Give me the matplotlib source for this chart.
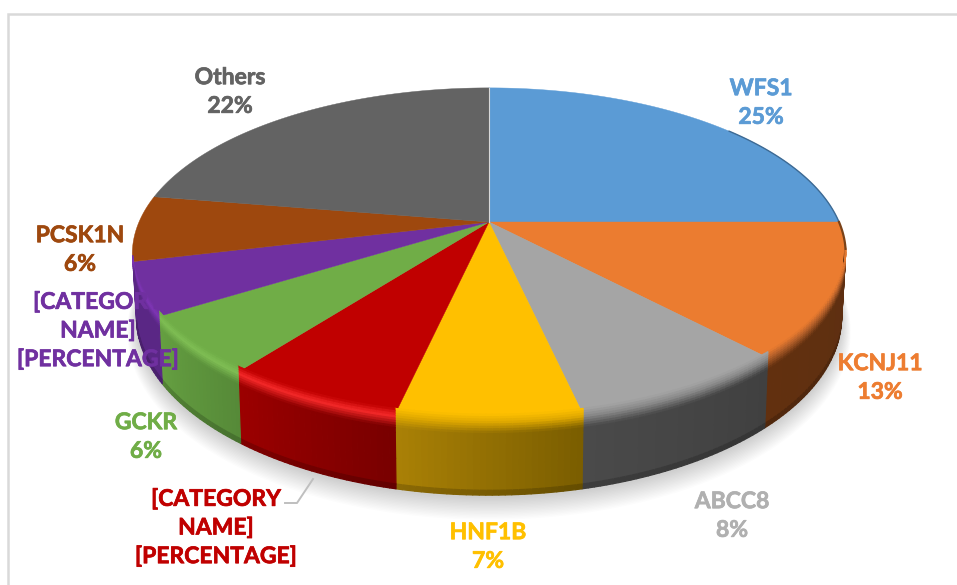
import numpy as np
import matplotlib
matplotlib.use('Agg')
import matplotlib.pyplot as plt
import matplotlib.patheffects as pe
from matplotlib.collections import PolyCollection
from matplotlib.colors import to_rgb

categories = ['WFS1', 'KCNJ11', 'ABCC8', 'HNF1B', '[CATEGORY\nNAME]', 'GCKR', '[CATEGORY\nNAME]', 'PCSK1N', 'Others']
shares = [25.0, 13.0, 8.5, 7.0, 6.9, 5.7, 5.1, 6.4, 22.4]
pct_labels = ['25%', '13%', '8%', '7%', '[PERCENTAGE]', '6%', '[PERCENTAGE]', '6%', '22%']

colors = ['#5B9BD5', '#EB7C30', '#A5A5A5', '#FFC000', '#C00000', '#70AD47', '#7030A0', '#9E480E', '#636363']
label_colors = ['#5B9BD5', '#ED7D31', '#B0B0B0', '#FFC000', '#C00000', '#70AD47', '#7030A0', '#9E480E', '#636363']
side_left = ['#3D6A94', '#62300F', '#4A4A4A', '#AA8106', '#9C0000', '#659F41', '#5A2785', '#7A3A0B', '#444444']
side_right = ['#3D6A94', '#5C2F12', '#404040', '#7A5D00', '#780000', '#568A38', '#5A2785', '#7A3A0B', '#444444']
rim_colors = ['#5B9BD5', '#B4602A', '#8A8A8A', '#E0A900', '#F42828', '#7FBE54', '#7E35B5', '#B05212', '#636363']
label_xy = [(761, 103), (880, 378), (732, 516), (488, 547), (216, 528), (146, 437), (98, 331), (80, 250), (230, 92)]

# projected circle: top face and bottom edge of the disc
cx = 489
k = 0.193
top_a, top_b, top_cy = 350, 160, 222
bot_a, bot_b, bot_cy = 346, 172, 282
rim_up = 6


def project(frac, r, a, b, cy):
    ang = 2 * np.pi * np.asarray(frac)
    u = r * np.sin(ang)
    v = r * np.cos(ang)
    d = 1 + k * v
    return cx + a * u / d, cy - b * v / d


def mix(c1, c2, t):
    c1 = np.array(to_rgb(c1))
    c2 = np.array(to_rgb(c2))
    return c1 + (c2 - c1) * t


fig = plt.figure(figsize=(9.57, 5.85), dpi=100)
ax = fig.add_axes([0, 0, 1, 1])
ax.set_xlim(0, 957)
ax.set_ylim(585, 0)
ax.axis('off')

# chart frame
ax.plot([8, 8, 957], [585, 14, 14], color='#D9D9D9', lw=1.8, solid_joinstyle='miter', zorder=1)

edges = np.cumsum([0] + shares) / sum(shares)

# soft shadow under the disc
ring = np.linspace(0, 1, 240)
for i in range(16):
    sx, sy = project(ring, 1.0, bot_a + i * 0.6, bot_b + i * 0.6, bot_cy + 3 + i * 0.7)
    ax.fill(sx, sy, color='black', alpha=0.013, lw=0, zorder=2)

# top face
for i in range(len(shares)):
    f = np.linspace(edges[i], edges[i + 1], 80)
    x, y = project(f, 1.0, top_a, top_b, top_cy)
    ax.fill(np.r_[cx, x], np.r_[top_cy, y], color=colors[i], lw=0.3, ec=colors[i], zorder=3)

# side wall with the rounded rim, drawn as small quads
quads = []
quad_colors = []
t_steps = np.r_[np.linspace(0, 0.24, 9), np.linspace(0.3, 0.94, 3), 1.0]
start, stop = 0.272, edges[7]
for i in range(len(shares)):
    lo, hi = max(edges[i], start), min(edges[i + 1], stop)
    if hi <= lo:
        continue
    fr = np.linspace(lo, hi, int((hi - lo) * 400) + 2)
    for j in range(len(fr) - 1):
        f0, f1 = fr[j], fr[j + 1]
        # fractions grow clockwise, so along the front they run right to left
        across = (0.5 * (f0 + f1) - edges[i]) / (edges[i + 1] - edges[i])
        side_c = mix(side_right[i], side_left[i], across)
        fade0 = np.clip((f0 - start) / 0.02, 0, 1)
        fade1 = np.clip((f1 - start) / 0.02, 0, 1)
        x00, y00 = project(f0, 1.0, top_a, top_b, top_cy)
        x01, y01 = project(f1, 1.0, top_a, top_b, top_cy)
        y00 = y00 - rim_up * fade0
        y01 = y01 - rim_up * fade1
        x10, y10 = project(f0, 1.0, bot_a, bot_b, bot_cy)
        x11, y11 = project(f1, 1.0, bot_a, bot_b, bot_cy)
        for n in range(len(t_steps) - 1):
            t0, t1 = t_steps[n], t_steps[n + 1]
            quads.append([
                (x00 + (x10 - x00) * t0, y00 + (y10 - y00) * t0),
                (x01 + (x11 - x01) * t0, y01 + (y11 - y01) * t0),
                (x01 + (x11 - x01) * t1, y01 + (y11 - y01) * t1),
                (x00 + (x10 - x00) * t1, y00 + (y10 - y00) * t1),
            ])
            tm = 0.5 * (t0 + t1)
            if tm < 0.1:
                c = mix(colors[i], rim_colors[i], tm / 0.1)
            elif tm < 0.24:
                c = mix(rim_colors[i], side_c, (tm - 0.1) / 0.14)
            elif tm > 0.94:
                c = side_c * 0.82
            else:
                c = side_c
            quad_colors.append(c)

ax.add_collection(PolyCollection(quads, facecolors=quad_colors, edgecolors=quad_colors, linewidths=0.9, zorder=4))

# thin dark edges on the rim and light seam at twelve o'clock
f = np.linspace(0.14, edges[1], 50)
x, y = project(f, 1.0, top_a, top_b, top_cy)
ax.plot(x, y, color='#3D6A94', lw=1.0, zorder=5)
f = np.linspace(edges[1], start + 0.004, 20)
x, y = project(f, 1.0, top_a, top_b, top_cy)
ax.plot(x, y, color='#7A4218', lw=1.6, zorder=5)
x, y = project(0.0, 1.0, top_a, top_b, top_cy)
ax.plot([cx, x], [top_cy, y], color='#D8D8D8', lw=0.8, zorder=5)

# leader line of the red label
ax.plot([285, 297, 313], [503, 503, 479], color='#BFBFBF', lw=1.4, zorder=6)

for i in range(len(categories)):
    ax.text(label_xy[i][0], label_xy[i][1], categories[i] + '\n' + pct_labels[i],
            color=label_colors[i], family='Lato', weight='bold', fontsize=16.5,
            ha='center', va='center', linespacing=1.45, zorder=7,
            path_effects=[pe.withStroke(linewidth=0.5, foreground=label_colors[i])])

fig.savefig('out.png', dpi=100)
